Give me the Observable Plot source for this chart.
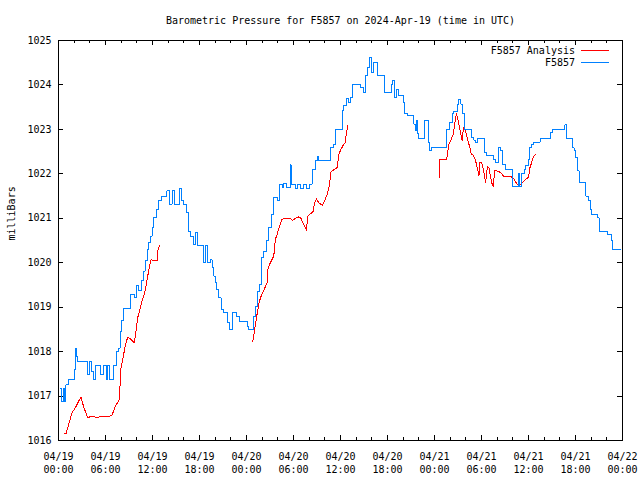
<!DOCTYPE html>
<html>
<head>
<meta charset="utf-8">
<script src="https://cdn.jsdelivr.net/npm/d3@7"></script>
<script src="https://cdn.jsdelivr.net/npm/@observablehq/plot@0.6"></script>
<style>
  body { margin: 0; background: #fff; }
  #chart svg { display: block; }
</style>
</head>
<body>
<div id="chart"></div>
<script>
const title = "Barometric Pressure for F5857 on 2024-Apr-19 (time in UTC)";
const yLabel = "milliBars";
const seriesNames = ["F5857 Analysis", "F5857"];
const seriesColors = ["#ff0000", "#0080ff"];
const startUTC = Date.UTC(2024, 3, 19, 0, 0);
const endHours = 72;

// F5857 observations: hours since 2024-04-19 00:00 UTC, pressure (mb)
const blueHours = [0.15,0.40,0.60,0.75,0.95,1.28,2.00,2.13,2.30,2.45,3.67,3.92,4.18,4.43,4.69,5.33,5.71,6.10,6.29,6.48,7.03,7.35,7.46,7.63,7.89,8.05,8.27,9.25,9.67,9.93,10.19,10.55,10.79,11.05,11.30,11.50,11.72,11.95,12.14,12.45,12.78,13.21,13.85,14.15,14.49,14.79,15.45,15.75,15.97,16.32,16.61,16.83,17.18,17.47,17.73,18.45,18.75,19.04,19.39,19.60,19.81,20.00,20.15,20.45,20.75,21.01,21.60,21.85,22.16,22.71,23.13,24.08,24.28,24.84,25.14,25.43,25.69,25.87,26.20,26.54,26.84,27.14,27.48,27.91,28.24,28.55,28.75,29.10,29.60,29.70,30.23,30.50,30.88,31.27,31.65,32.04,32.38,32.81,33.02,33.19,34.72,35.07,35.36,36.22,36.42,36.77,37.06,37.28,37.49,38.56,38.90,39.20,39.49,39.74,39.92,40.26,40.69,41.66,42.52,42.68,42.90,43.12,43.45,44.01,44.18,44.52,45.37,45.58,45.71,45.88,46.01,46.74,47.21,47.41,47.59,49.51,49.97,50.27,50.48,50.91,51.12,51.34,51.55,51.85,52.70,53.04,53.25,53.55,54.40,54.66,55.51,55.81,56.23,56.45,56.66,57.09,57.94,58.66,58.88,59.09,59.43,59.65,59.94,60.16,60.41,60.70,61.47,62.84,63.05,64.62,64.88,65.61,65.81,66.03,66.25,66.45,67.31,67.60,67.86,68.04,68.80,69.01,70.08,70.59,70.72,71.75];
const blueValues = [1017.18,1016.88,1017.18,1016.88,1017.25,1017.37,1017.6,1018.08,1017.9,1017.78,1017.49,1017.77,1017.55,1017.37,1017.69,1017.49,1017.69,1017.37,1017.69,1017.37,1017.69,1017.9,1018.0,1018.08,1018.46,1018.7,1018.98,1019.29,1019.21,1019.49,1019.38,1019.6,1019.81,1020.05,1020.3,1020.45,1020.6,1020.8,1021.01,1021.2,1021.41,1021.5,1021.62,1021.32,1021.62,1021.32,1021.68,1021.39,1021.32,1021.13,1020.71,1020.6,1020.41,1020.68,1020.39,1020.0,1020.39,1020.0,1020.07,1019.9,1019.7,1019.55,1019.4,1019.21,1018.95,1018.87,1018.65,1018.5,1018.87,1018.8,1018.68,1018.57,1018.5,1018.8,1019.02,1019.36,1019.51,1020.11,1020.26,1020.5,1020.79,1021.09,1021.47,1021.4,1021.77,1021.7,1021.79,1021.7,1022.2,1021.77,1021.68,1021.77,1021.68,1021.77,1021.68,1021.77,1022.1,1022.29,1022.38,1022.31,1022.6,1022.67,1023.0,1023.42,1023.53,1023.7,1023.61,1023.72,1024.0,1023.95,1023.83,1024.21,1024.4,1024.61,1024.29,1024.51,1024.21,1023.82,1024.02,1024.1,1023.72,1023.9,1023.76,1023.61,1023.35,1023.31,1023.12,1022.97,1023.21,1022.9,1022.8,1023.21,1022.71,1022.52,1022.59,1023.0,1023.16,1023.35,1023.41,1023.57,1023.68,1023.57,1023.35,1023.0,1022.82,1022.76,1022.71,1022.8,1022.48,1022.41,1022.33,1022.26,1022.59,1022.52,1022.22,1022.1,1021.71,1022.0,1021.71,1022.0,1022.1,1022.18,1022.33,1022.59,1022.67,1022.71,1022.8,1022.93,1023.0,1023.1,1022.8,1022.59,1022.52,1022.37,1022.07,1021.8,1021.5,1021.41,1021.2,1021.09,1021.01,1020.7,1020.64,1020.49,1020.3,1020.3];

// F5857 Analysis: null entries mark gaps
const redHours = [0.73,0.98,1.28,1.71,2.13,2.86,3.19,3.71,4.27,4.91,5.55,6.19,6.82,7.25,7.76,7.97,8.31,8.52,8.82,9.07,9.67,9.93,10.10,10.35,10.66,10.95,11.21,11.50,11.81,12.14,12.58,12.65,12.91,
  null,
  24.79,25.01,25.27,25.56,25.78,26.20,26.63,26.76,27.05,27.48,27.69,27.91,28.24,28.55,29.19,29.61,29.83,30.25,30.67,30.89,31.31,31.66,31.82,32.17,32.51,32.68,32.93,33.23,33.66,33.96,34.30,34.63,34.72,34.94,35.23,35.58,35.78,36.09,36.42,36.64,36.73,36.93,
  null,
  48.69,48.70,49.55,49.64,49.84,50.06,50.40,50.57,50.79,50.99,51.25,51.55,51.68,51.85,52.06,52.27,52.52,52.70,52.96,53.25,53.55,53.67,53.80,54.02,54.24,54.40,54.53,54.75,54.95,55.17,55.30,55.51,55.68,55.81,56.45,56.87,57.30,57.72,58.15,58.58,58.88,59.22,59.65,59.99,60.19,60.41,60.63,60.84];
const redValues = [1016.16,1016.16,1016.35,1016.62,1016.73,1016.98,1016.77,1016.52,1016.54,1016.52,1016.54,1016.54,1016.56,1016.77,1016.92,1017.63,1017.93,1018.12,1018.32,1018.3,1018.2,1018.5,1018.76,1018.91,1019.13,1019.29,1019.51,1019.81,1020.07,1020.04,1020.04,1020.26,1020.39,
  null,
  1018.22,1018.46,1018.76,1019.06,1019.21,1019.38,1019.55,1019.89,1020.0,1020.15,1020.53,1020.64,1020.83,1020.98,1021.0,1021.0,1020.95,1021.0,1021.03,1021.02,1020.86,1020.73,1021.05,1021.1,1021.15,1021.35,1021.44,1021.35,1021.29,1021.39,1021.54,1021.77,1022.03,1022.07,1022.1,1022.14,1022.44,1022.56,1022.67,1022.71,1022.9,1023.08,
  null,
  1021.92,1022.33,1022.33,1022.44,1022.67,1022.74,1022.9,1023.12,1023.35,1023.23,1023.0,1022.74,1023.04,1023.04,1022.9,1022.74,1022.59,1022.43,1022.42,1022.29,1022.07,1021.95,1022.26,1022.26,1022.1,1021.92,1021.8,1022.16,1022.14,1021.92,1021.8,1021.71,1022.08,1022.08,1022.03,1021.93,1021.93,1021.95,1021.88,1021.75,1021.75,1021.8,1021.88,1021.92,1022.14,1022.26,1022.38,1022.43];

const yTicks = d3.range(1016, 1026, 1);
const majorTickHours = d3.range(0, 73, 6);
const minorTickHours = d3.range(0, 73, 2).filter(h => h % 6 !== 0);

const toTime = h => (h == null ? null : new Date(startUTC + h * 3600e3));
const blue = blueHours.map((h, i) => ({time: toTime(h), value: blueValues[i]}));
const red = redHours.map((h, i) => ({time: toTime(h), value: redValues[i] == null ? NaN : redValues[i]}));
const majorTicks = majorTickHours.map(toTime);
const minorTicks = minorTickHours.map(toTime);
const fmt = d3.utcFormat("%m/%d\n%H:%M");

const W = 640, H = 480, ML = 58, MR = 18, MT = 40, MB = 40;
const FW = W - ML - MR, FH = H - MT - MB;
const majorLen = 5, minorLen = 3;

const svg = Plot.plot({
  width: W,
  height: H,
  marginLeft: ML,
  marginRight: MR,
  marginTop: MT,
  marginBottom: MB,
  style: {fontFamily: "'DejaVu Sans Mono', monospace", fontSize: "10px", background: "#fff", color: "#000"},
  x: {type: "utc", domain: [toTime(0), toTime(endHours)]},
  y: {domain: [1016, 1025]},
  marks: [
    // inward ticks (gnuplot style) on all four sides
    Plot.tickX(majorTicks, {x: d => d, insetTop: FH - majorLen, stroke: "#000", shapeRendering: "crispEdges"}),
    Plot.tickX(majorTicks, {x: d => d, insetBottom: FH - majorLen, stroke: "#000", shapeRendering: "crispEdges"}),
    Plot.tickX(minorTicks, {x: d => d, insetTop: FH - minorLen, stroke: "#000", shapeRendering: "crispEdges"}),
    Plot.tickX(minorTicks, {x: d => d, insetBottom: FH - minorLen, stroke: "#000", shapeRendering: "crispEdges"}),
    Plot.tickY(yTicks, {y: d => d, insetRight: FW - majorLen, stroke: "#000", shapeRendering: "crispEdges"}),
    Plot.tickY(yTicks, {y: d => d, insetLeft: FW - majorLen, stroke: "#000", shapeRendering: "crispEdges"}),
    // tick labels
    Plot.axisX({anchor: "bottom", ticks: majorTicks, tickSize: 0, tickPadding: 11, tickFormat: fmt, lineHeight: 1.25, label: null}),
    Plot.axisY({anchor: "left", ticks: yTicks, tickSize: 0, tickPadding: 7, tickFormat: d => String(d), label: null}),
    // data
    Plot.line(red, {x: "time", y: "value", stroke: seriesColors[0], strokeWidth: 1, shapeRendering: "crispEdges"}),
    Plot.line(blue, {x: "time", y: "value", stroke: seriesColors[1], strokeWidth: 1, curve: "step-after", shapeRendering: "crispEdges"}),
    Plot.frame({stroke: "#000", strokeWidth: 1, shapeRendering: "crispEdges"}),
    // title, axis label, legend text
    Plot.text([title], {text: d => d, frameAnchor: "top", lineAnchor: "middle", dy: -20}),
    Plot.text([yLabel], {text: d => d, frameAnchor: "left", lineAnchor: "middle", dx: -46.5, rotate: -90}),
    Plot.text([seriesNames[0]], {text: d => d, frameAnchor: "top-right", lineAnchor: "middle", textAnchor: "end", dx: -47.5, dy: 10}),
    Plot.text([seriesNames[1]], {text: d => d, frameAnchor: "top-right", lineAnchor: "middle", textAnchor: "end", dx: -47.5, dy: 22.7})
  ]
});

// legend line samples
const g = d3.select(svg).append("g").attr("shape-rendering", "crispEdges");
[50.5, 62.5].forEach((y, i) => {
  g.append("line").attr("x1", 581).attr("x2", 609).attr("y1", y).attr("y2", y)
    .attr("stroke", seriesColors[i]).attr("stroke-width", 1);
});

document.getElementById("chart").appendChild(svg);
</script>
</body>
</html>
